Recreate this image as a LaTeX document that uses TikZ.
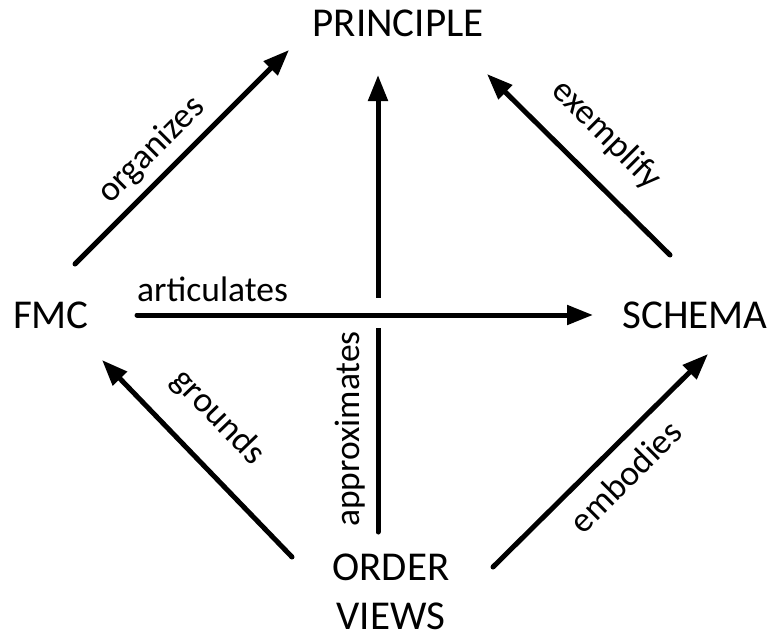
\documentclass[tikz,border=0pt]{standalone}
\usepackage{fontspec}
\setmainfont{Carlito}
\usetikzlibrary{arrows.meta,calc}
\begin{document}
\begin{tikzpicture}[x=1pt,y=-1pt,
  concept/.style={font=\fontsize{41}{49}\selectfont, inner sep=0pt, anchor=base},
  rel/.style={font=\fontsize{35.5}{42}\selectfont, inner sep=0pt, anchor=base},
  arr/.style={line width=5pt, line cap=round, -{Triangle[length=26pt,width=19pt]}}]
% canvas
\fill[white] (0,0) rectangle (771,634);
\useasboundingbox (0,0) rectangle (771,634);

% concepts
\node[concept] (principle) at (398,37) {PRINCIPLE};
\node[concept] (fmc) at (51,328) {FMC};
\node[concept] (schema) at (695,328) {SCHEMA};
\node[concept, anchor=south, align=center] (order) at (391,630) {ORDER\\VIEWS};

% order views -> principle, interrupted where it passes under the horizontal arrow
\draw[arr] ($(order.south)+(-13,-98)$) -- ($(principle.base)+(-20,38)$);
\fill[white] (368,298) rectangle (388,328);

% relations
\draw[arr] ($(fmc.base)+(24,-64)$) -- ($(principle.base)+(-109,13)$);
\draw[arr] ($(schema.base)+(-25,-73)$) -- ($(principle.base)+(89,37)$);
\draw[arr] ($(fmc.base)+(86,-13)$) -- ($(schema.base)+(-102,-13)$);
\draw[arr] ($(order.south)+(-99,-73)$) -- ($(fmc.base)+(51,32)$);
\draw[arr] ($(order.south)+(102,-63)$) -- ($(schema.base)+(13,26)$);

% relation labels
\node[rel, rotate=45] (lorg) at (158,157) {organizes};
\node[rel, rotate=-45] (lexe) at (600,142) {exemplify};
\node[rel, anchor=base west] (lart) at (137,301) {articulates};
\node[rel, rotate=90] (lapp) at (359,429) {approximates};
\node[rel, rotate=-46] (lgro) at (211,424) {grounds};
\node[rel, rotate=45] (lemb) at (634,485) {embodies};
\end{tikzpicture}
\end{document}
